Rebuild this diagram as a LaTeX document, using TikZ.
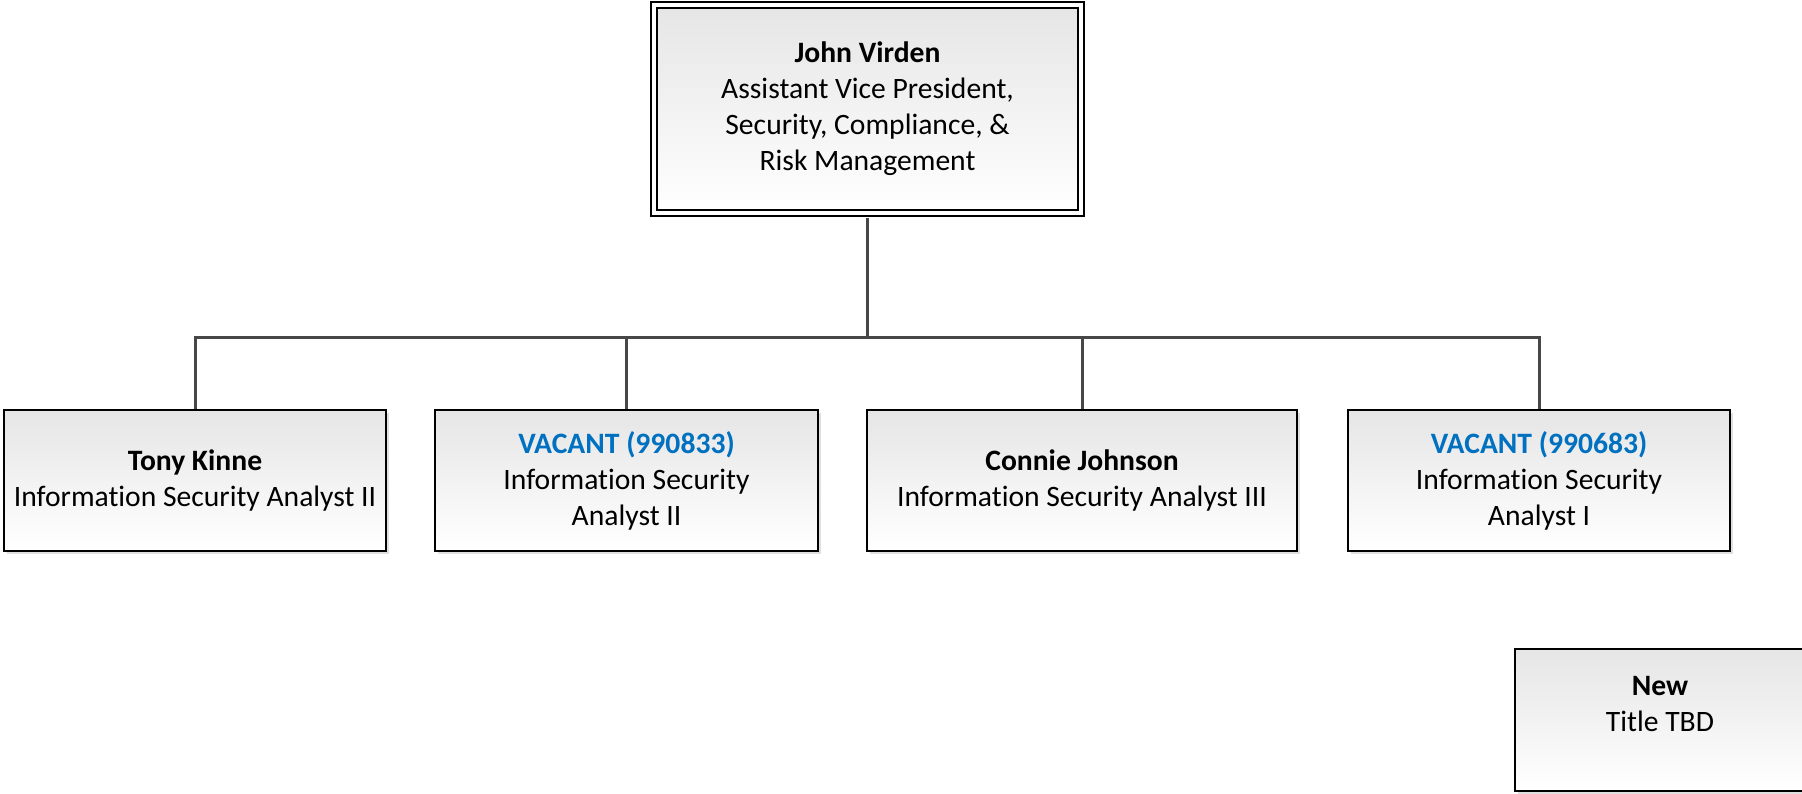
\documentclass[tikz,border=0pt]{standalone}
\usepackage{fontspec}
\setmainfont{Carlito}[Ligatures=NoCommon]
\usetikzlibrary{shadows}

\definecolor{vacantblue}{HTML}{0070C0}
\definecolor{linegray}{HTML}{474747}
\newcommand*\px{0.5pt}
\newcommand*\vacant[1]{\textcolor{vacantblue}{\textbf{VACANT (#1)}}}
\tikzset{position/.style 2 args={
    draw=black,
    line width=1pt,
    rectangle,
    top color=black!10,
    bottom color=white,
    drop shadow={shadow xshift=1.5pt, shadow yshift=-1.5pt, fill=black, opacity=0.12},
    minimum width=#1*\px,
    minimum height=#2*\px,
    inner sep=0pt,
    align=center,
    font=\fontsize{14.8}{18}\selectfont
}}
\tikzset{connector/.style={
    draw=linegray,
    line width=1.5pt
}}

\begin{document}
\begin{tikzpicture}[x=\px,y=-\px]

    % Fix the page size.
    \useasboundingbox (0,0) rectangle (1802,793);
    \clip (0,0) rectangle (1802,793);

    % The head of the unit.
    \node[position={427}{208}, double, double distance=2pt] (virden) at (867.5,109)
        {\textbf{John Virden}\\Assistant Vice President,\\Security, Compliance, \&\\Risk Management};

    % The analysts.
    \node[position={382}{141}] (kinne) at (195,480.5)
        {\textbf{Tony Kinne}\\Information Security Analyst II};
    \node[position={383}{141}] (vacantA) at (626.5,480.5)
        {\vacant{990833}\\Information Security\\Analyst II};
    \node[position={430}{141}] (johnson) at (1082,480.5)
        {\textbf{Connie Johnson}\\Information Security Analyst III};
    \node[position={382}{141}] (vacantB) at (1539,480.5)
        {\vacant{990683}\\Information Security\\Analyst I};

    % The new position, not yet connected.
    \node[position={290}{142}] (newtitle) at (1660,720)
        {\textbf{New}\\Title TBD\\[-2pt]\mbox{}};

    % Draw the reporting lines.
    \coordinate (bar) at (867.5,337);
    \foreach \staff in {kinne,vacantA,johnson,vacantB}
        \draw[connector, shorten <=2pt] (virden.south) |- (bar) -| (\staff.north);

\end{tikzpicture}
\end{document}
